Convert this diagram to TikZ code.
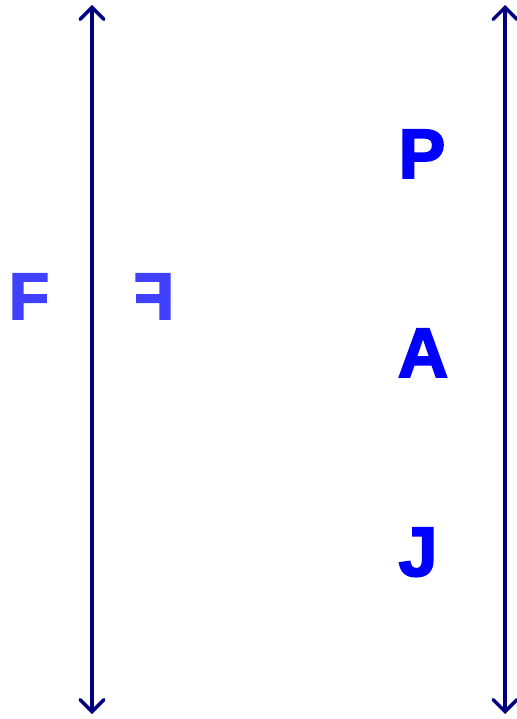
\documentclass[tikz,border=0pt]{standalone}
\usepackage{fontspec}
\setmainfont{Liberation Sans}
\newfontfamily\heavyfont{Liberation Sans Bold}[FakeBold=2.5]
\usetikzlibrary{arrows.meta}
\definecolor{navyline}{HTML}{000080}
\definecolor{lightblue}{HTML}{4040FF}
\definecolor{pureblue}{HTML}{0000FF}
\tikzset{
  axisline/.style={draw=navyline, line width=3.5pt, {Straight Barb[length=12pt,width=24pt,line cap=round]}-{Straight Barb[length=12pt,width=24pt,line cap=round]}},
  fletter/.style={anchor=base, inner sep=0pt, text=lightblue, font=\fontsize{66}{66}\selectfont\heavyfont},
  bigletter/.style={anchor=base, inner sep=0pt, text=pureblue, font=\fontsize{70}{70}\selectfont\heavyfont}
}
\begin{document}
\begin{tikzpicture}[x=1pt,y=1pt]
\useasboundingbox (0,0) rectangle (516,-719);
\coordinate (lt) at (92,-5);
\coordinate (lb) at (92,-714);
\coordinate (rt) at (505,-5);
\coordinate (rb) at (505,-714);
\draw[axisline] (lt) -- (lb);
\draw[axisline] (rt) -- (rb);
\node[fletter] (f1) at (29,-319) {F};
\node[fletter] (f2) at (154,-319) {\scalebox{-1}[1]{F}};
\node[bigletter] (p) at (422,-178) {P};
\node[bigletter] (a) at (423,-377) {A};
\node[bigletter] (j) at (418,-576) {J};
\end{tikzpicture}
\end{document}
